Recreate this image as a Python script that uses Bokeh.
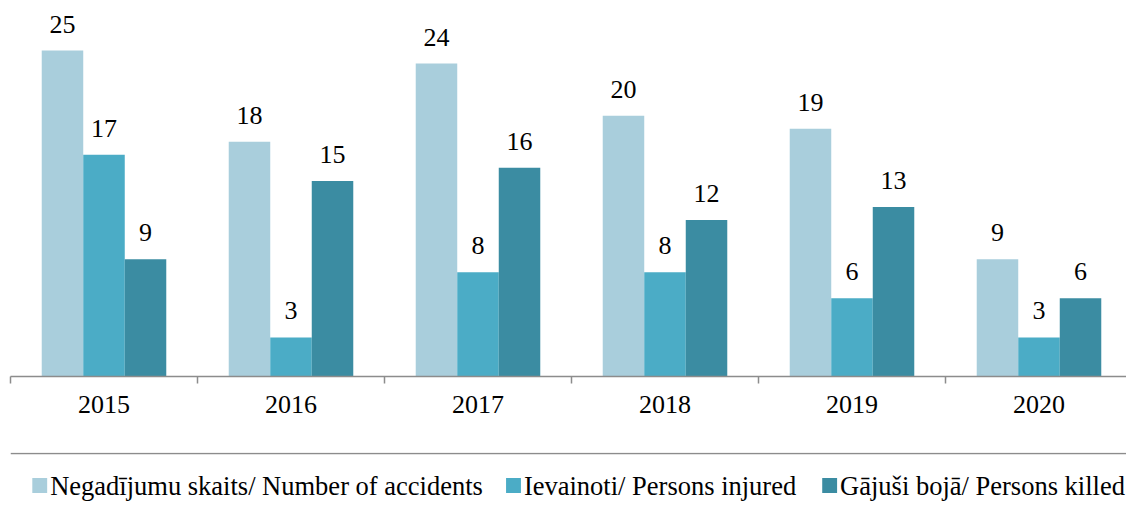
from bokeh.plotting import figure
from bokeh.models import (Range1d, FixedTicker, LinearAxis, Span, ColumnDataSource)
from bokeh.layouts import column
from bokeh.core.properties import value
from bokeh.embed import file_html
from bokeh.resources import INLINE

years = ["2015", "2016", "2017", "2018", "2019", "2020"]
accidents = [25, 18, 24, 20, 19, 9]
injured = [17, 3, 8, 8, 6, 3]
killed = [9, 15, 16, 12, 13, 6]
series_labels = ["Negadījumu skaits/ Number of accidents",
                 "Ievainoti/ Persons injured",
                 "Gājuši bojā/ Persons killed"]
colors = ["#A9CEDC", "#4BACC6", "#3B8CA2"]

FONT = "Liberation Serif"
W = 1126
H1 = 452
H2 = 56

centers = [i + 0.5 for i in range(len(years))]
offsets = [-0.222, 0.0, 0.222]
bar_w = 0.222

p1 = figure(width=W, height=H1, output_backend="svg", toolbar_location=None,
            x_range=Range1d(0, 1116 / 187.0), y_range=Range1d(0, 376 / 13.04),
            min_border_left=10, min_border_right=0, min_border_top=0,
            min_border_bottom=76, x_axis_type=None, y_axis_type=None)
p1.outline_line_color = None
p1.grid.visible = False

for vals, off, col in zip([accidents, injured, killed], offsets, colors):
    xs = [c + off for c in centers]
    src = ColumnDataSource(dict(x=xs, top=vals, lab=[str(v) for v in vals]))
    p1.vbar(x="x", top="top", width=bar_w, bottom=0, source=src,
            fill_color=col, line_color=None)
    p1.text(x="x", y="top", text="lab", source=src, text_align="center",
            text_baseline="bottom", y_offset=-18,
            text_font=value(FONT), text_font_size="26px", text_color="#000000")

xaxis = LinearAxis(ticker=FixedTicker(ticks=centers, minor_ticks=list(range(7))))
xaxis.major_label_overrides = {c: y for c, y in zip(centers, years)}
xaxis.major_tick_line_color = None
xaxis.major_tick_in = 0
xaxis.major_tick_out = 0
xaxis.minor_tick_in = 0
xaxis.minor_tick_out = 7
xaxis.minor_tick_line_color = "#8C8C8C"
xaxis.minor_tick_line_width = 1.5
xaxis.axis_line_color = "#8C8C8C"
xaxis.axis_line_width = 1.5
xaxis.major_label_standoff = 12
xaxis.major_label_text_font = FONT
xaxis.major_label_text_font_size = "26px"
xaxis.major_label_text_color = "#000000"
p1.add_layout(xaxis, "below")

# legend strip (pixel coordinates) with separator line
p2 = figure(width=W, height=H2, output_backend="svg", toolbar_location=None,
            x_range=Range1d(0, W), y_range=Range1d(0, H2),
            min_border_left=0, min_border_right=0, min_border_top=0,
            min_border_bottom=0, x_axis_type=None, y_axis_type=None)
p2.outline_line_color = None
p2.grid.visible = False
p2.add_layout(Span(location=H2 - 1, dimension="width", line_color="#8C8C8C",
                   line_width=1.5))

legend_x = [22, 500, 819]   # left edge of each legend swatch (layout)
legend_y = 23               # vertical centre of legend row (layout)
sw = 15
p2.rect(x=[lx + sw / 2 for lx in legend_x], y=[legend_y] * 3, width=sw, height=sw,
        fill_color=colors, line_color=None)
p2.text(x=[lx + sw + 3 for lx in legend_x], y=[legend_y] * 3, text=series_labels,
        text_align="left", text_baseline="middle", text_font=value(FONT),
        text_font_size="26.5px", text_color="#000000")

layout = column(p1, p2, spacing=0)

open("out.html", "w").write(file_html(layout, INLINE))
